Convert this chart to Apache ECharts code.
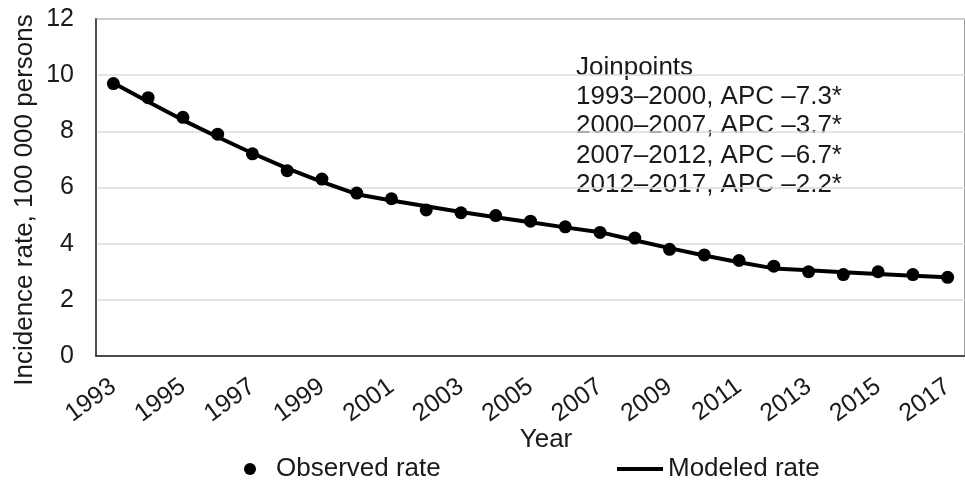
<!DOCTYPE html>
<html>
<head>
<meta charset="utf-8">
<script src="https://cdn.jsdelivr.net/npm/echarts@6/dist/echarts.min.js"></script>
<style>
  html, body { margin: 0; padding: 0; background: #fff; }
  #chart { width: 965px; height: 483px; }
</style>
</head>
<body>
<div id="chart"></div>
<script>
const years = ['1993','1994','1995','1996','1997','1998','1999','2000','2001','2002','2003','2004','2005','2006','2007','2008','2009','2010','2011','2012','2013','2014','2015','2016','2017'];
const observedRate = [9.7, 9.2, 8.5, 7.9, 7.2, 6.6, 6.3, 5.8, 5.6, 5.2, 5.1, 5.0, 4.8, 4.6, 4.4, 4.2, 3.8, 3.6, 3.4, 3.2, 3.0, 2.9, 3.0, 2.9, 2.8];
const modeledRate = [9.72, 9.05, 8.4, 7.8, 7.22, 6.68, 6.2, 5.76, 5.54, 5.33, 5.13, 4.94, 4.76, 4.58, 4.41, 4.12, 3.84, 3.58, 3.34, 3.12, 3.05, 2.98, 2.92, 2.86, 2.8];
const yTicks = { min: 0, max: 12, interval: 2 };
const joinpointLines = [
  'Joinpoints',
  '1993\u20132000, APC \u20137.3*',
  '2000\u20132007, APC \u20133.7*',
  '2007\u20132012, APC \u20136.7*',
  '2012\u20132017, APC \u20132.2*'
];
const yTitle = 'Incidence rate, 100 000 persons';
const xTitle = 'Year';

const FONT = 'Liberation Sans, Arial, Helvetica, sans-serif';
const TXT = '#1a1a1a';

const chart = echarts.init(document.getElementById('chart'), null, { renderer: 'canvas' });
chart.setOption({
  backgroundColor: '#ffffff',
  animation: false,
  textStyle: { fontFamily: FONT, color: TXT },
  grid: {
    left: 96, top: 19, width: 877, height: 337,
    show: true, borderColor: '#808080', borderWidth: 1.5, backgroundColor: 'transparent'
  },
  legend: [
    {
      left: 239, top: 451,
      data: [{ name: 'Observed rate', icon: 'circle' }],
      itemWidth: 42, itemHeight: 12,
      itemStyle: { opacity: 1 },
      textStyle: { fontSize: 26, color: TXT, fontFamily: FONT },
      selectedMode: false
    },
    {
      left: 612, top: 451,
      data: [{ name: 'Modeled rate', icon: 'path://M0,0 L46,0 L46,4 L0,4 Z' }],
      itemWidth: 46, itemHeight: 28,
      textStyle: { fontSize: 26, color: TXT, fontFamily: FONT },
      selectedMode: false
    }
  ],
  xAxis: {
    type: 'category',
    data: years,
    boundaryGap: true,
    axisLine: { show: true, lineStyle: { color: '#222', width: 1.5 } },
    axisTick: { show: false },
    axisLabel: {
      interval: 1,
      rotate: 36,
      margin: 28,
      fontSize: 25,
      color: TXT,
      fontFamily: FONT
    },
    splitLine: { show: false }
  },
  yAxis: {
    type: 'value',
    min: yTicks.min, max: yTicks.max, interval: yTicks.interval,
    axisLine: { show: true, lineStyle: { color: '#333', width: 1.5 } },
    axisTick: { show: false },
    axisLabel: { margin: 22, fontSize: 25, color: TXT, fontFamily: FONT },
    splitLine: { show: true, lineStyle: { color: '#dcdcdc', width: 1.5 } }
  },
  graphic: [
    {
      type: 'text', x: 25, y: 200, rotation: Math.PI / 2,
      style: { text: yTitle, font: '26px ' + FONT, fill: TXT, align: 'center', verticalAlign: 'middle' }
    },
    {
      type: 'text', x: 546, y: 440,
      style: { text: xTitle, font: '26px ' + FONT, fill: TXT, align: 'center', verticalAlign: 'middle' }
    },
    {
      type: 'text', x: 576, y: 53,
      style: { text: joinpointLines.join('\n'), font: '26px ' + FONT, fill: TXT, align: 'left', verticalAlign: 'top', lineHeight: 29.3 }
    }
  ],
  series: [
    {
      name: 'Modeled rate',
      type: 'line',
      data: modeledRate,
      symbol: 'none',
      lineStyle: { color: '#000', width: 4 },
      itemStyle: { color: '#000' },
      z: 2
    },
    {
      name: 'Observed rate',
      type: 'scatter',
      data: observedRate,
      symbol: 'circle',
      symbolSize: 13,
      itemStyle: { color: '#000', opacity: 1 },
      z: 3
    }
  ]
});
</script>
</body>
</html>
